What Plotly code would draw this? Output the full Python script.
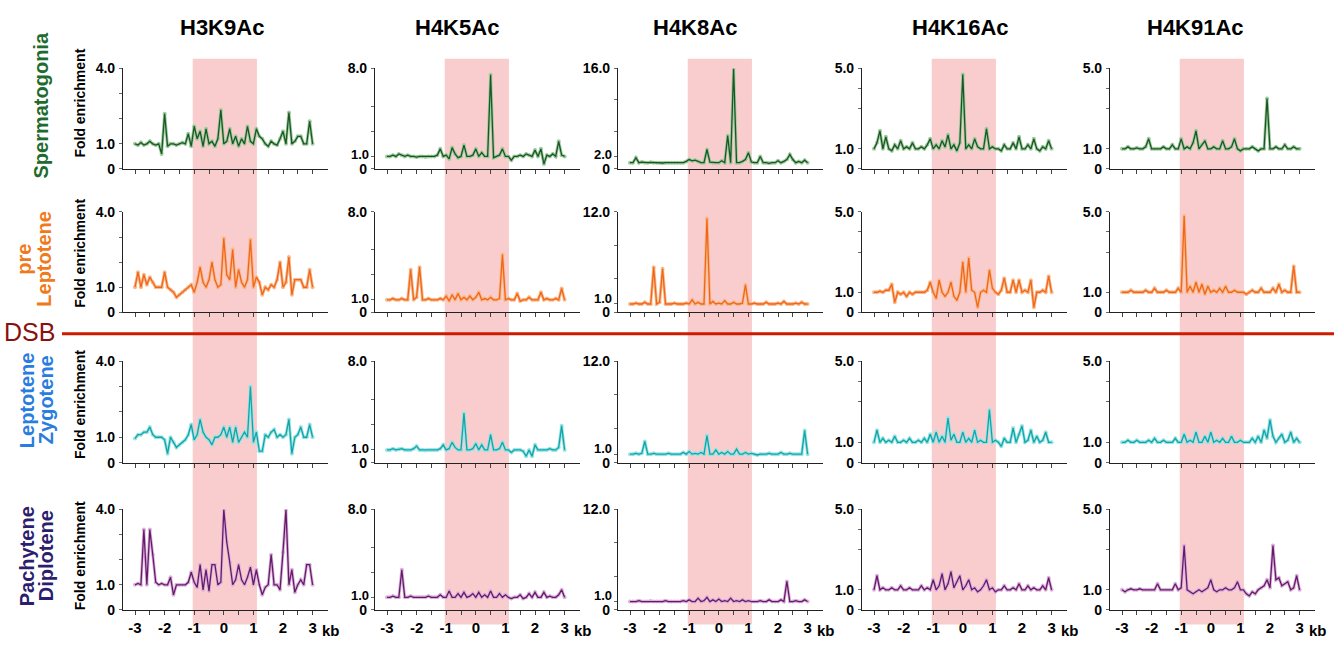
import plotly.graph_objects as go

W, H = 1334, 654

# ---------------- data ----------------
kb = [round(-3 + 0.1 * i, 1) for i in range(61)]

marks = ["H3K9Ac", "H4K5Ac", "H4K8Ac", "H4K16Ac", "H4K91Ac"]
stages = ["Spermatogonia", "preLeptotene", "LeptoteneZygotene", "PachyteneDiplotene"]

# Spermatogonia
h3k9ac_spg = [1.0, 0.95, 1.05, 0.95, 1.0, 1.1, 1.0, 0.95, 1.0, 0.6,
              2.2, 0.9, 1.0, 1.0, 0.95, 1.0, 1.05, 1.0, 1.4, 0.9,
              1.7, 1.2, 1.5, 0.9, 1.6, 1.0, 1.1, 0.9, 1.2, 2.35,
              1.0, 1.1, 1.6, 1.0, 1.3, 0.9, 1.2, 1.0, 1.7, 1.1,
              1.0, 1.6, 1.3, 1.2, 1.0, 0.9, 1.1, 1.0, 0.95, 1.2,
              1.5, 1.0, 2.25, 1.0, 1.1, 1.3, 1.3, 1.0, 1.0, 1.9, 1.0]
h4k5ac_spg = [1.0, 1.0, 1.1, 1.0, 1.2, 1.1, 1.0, 1.1, 1.0, 1.0,
              0.95, 1.0, 1.0, 0.95, 1.0, 1.0, 1.0, 1.1, 1.6, 1.0,
              1.1, 0.8, 1.7, 1.2, 0.9, 1.0, 1.9, 1.0, 1.0, 1.1,
              1.6, 1.0, 1.3, 1.0, 1.0, 7.5, 0.9, 1.0, 1.1, 1.6,
              1.0, 1.0, 0.7, 1.0, 1.0, 1.1, 1.0, 1.2, 1.1, 1.0,
              1.5, 1.0, 1.6, 0.4, 1.1, 1.0, 1.2, 1.0, 2.2, 1.1, 1.0]
h4k8ac_spg = [1.0, 1.0, 1.8, 1.0, 1.1, 1.0, 1.0, 1.05, 1.0, 1.0,
              1.0, 0.95, 1.0, 1.0, 1.0, 1.0, 1.0, 1.0, 1.0, 1.2,
              1.5, 1.3, 1.4, 1.2, 1.0, 1.0, 3.1, 1.1, 1.0, 1.0,
              1.0, 1.3, 1.0, 5.3, 1.0, 16.0, 1.0, 1.0, 1.2, 1.5,
              2.6, 1.1, 1.0, 1.0, 2.0, 1.0, 1.0, 0.9, 1.0, 1.0,
              1.3, 1.0, 1.2, 1.5, 2.3, 1.5, 1.0, 1.2, 1.0, 1.4, 1.0]
h4k16ac_spg = [1.0, 1.3, 1.9, 1.0, 1.6, 1.0, 0.9, 1.2, 1.0, 1.4,
               1.0, 1.1, 1.0, 1.3, 1.0, 1.0, 1.1, 1.0, 1.2, 1.5,
               1.0, 1.2, 1.0, 1.4, 1.1, 1.7, 1.0, 1.2, 0.9, 1.3,
               4.7, 1.0, 1.2, 1.0, 1.5, 1.1, 1.0, 1.0, 2.0, 1.0,
               1.1, 1.0, 1.0, 0.9, 1.2, 1.0, 1.0, 1.3, 1.0, 1.6,
               1.0, 1.0, 1.2, 1.0, 1.5, 1.0, 0.9, 1.1, 1.0, 1.4, 1.0]
h4k91ac_spg = [1.0, 1.0, 1.1, 1.0, 1.0, 1.05, 1.0, 1.0, 1.1, 1.5,
               1.0, 1.0, 1.0, 1.0, 1.1, 1.0, 1.0, 1.2, 1.0, 1.0,
               1.5, 1.0, 1.1, 1.0, 1.3, 1.9, 1.0, 1.2, 1.4, 1.0,
               1.0, 1.1, 1.0, 1.0, 1.4, 1.0, 1.0, 1.1, 1.5, 1.0,
               0.9, 1.0, 1.0, 1.0, 1.1, 1.0, 0.9, 1.0, 1.0, 3.5,
               1.0, 1.0, 1.1, 1.0, 1.0, 1.2, 1.0, 1.0, 1.1, 1.0, 1.0]

# pre-Leptotene
h3k9ac_prl = [1.0, 1.6, 1.0, 1.5, 1.1, 1.4, 1.2, 1.0, 1.0, 1.0,
              1.6, 1.0, 0.9, 0.8, 0.6, 0.7, 0.8, 0.9, 1.0, 1.1,
              0.8, 1.2, 1.8, 1.2, 1.0, 1.3, 2.0, 1.3, 1.0, 1.1,
              2.95, 1.5, 1.3, 2.5, 1.0, 1.7, 1.2, 1.0, 1.3, 2.9,
              1.0, 1.4, 1.2, 0.7, 1.0, 0.9, 1.1, 1.0, 1.3, 2.0,
              1.0, 1.2, 2.2, 0.7, 1.3, 1.3, 1.3, 1.0, 1.0, 1.7, 1.0]
h4k5ac_prl = [1.0, 1.0, 1.1, 1.0, 1.0, 1.1, 1.0, 1.0, 3.4, 1.0,
              1.2, 3.6, 1.0, 1.0, 1.1, 1.0, 1.0, 1.0, 1.1, 1.0,
              1.3, 0.9, 1.4, 1.0, 1.5, 1.0, 1.2, 1.0, 1.3, 1.0,
              1.2, 1.6, 1.0, 1.1, 1.0, 1.2, 1.0, 1.0, 1.1, 4.6,
              1.0, 1.1, 1.0, 1.0, 1.5, 0.9, 1.0, 1.0, 1.2, 1.0,
              1.0, 1.0, 1.6, 1.0, 1.1, 1.0, 1.0, 1.1, 1.0, 1.9, 1.0]
h4k8ac_prl = [1.0, 1.0, 1.1, 1.0, 1.0, 1.2, 1.0, 1.0, 5.4, 1.0,
              1.2, 5.2, 1.0, 1.0, 1.0, 1.1, 1.0, 1.0, 1.0, 1.1,
              1.0, 1.5, 1.0, 1.2, 1.0, 1.0, 11.2, 1.0, 1.3, 1.0,
              1.1, 1.0, 1.4, 1.0, 1.0, 1.2, 1.0, 1.0, 1.1, 3.3,
              1.0, 1.0, 1.1, 1.0, 1.0, 1.0, 1.2, 1.0, 1.0, 1.0,
              1.1, 1.0, 1.3, 1.0, 1.0, 1.0, 1.1, 1.0, 1.2, 1.0, 1.0]
h4k16ac_prl = [1.0, 1.0, 1.05, 1.0, 1.1, 1.1, 1.4, 0.5, 1.0, 0.9,
               1.0, 0.8, 1.0, 0.9, 1.0, 1.0, 1.0, 1.0, 1.1, 1.5,
               1.0, 0.7, 1.6, 1.0, 0.8, 1.0, 1.5, 0.8, 0.6, 1.0,
               2.5, 1.0, 2.7, 1.1, 1.0, 0.25, 1.0, 1.1, 1.0, 2.1,
               1.2, 1.0, 0.9, 1.1, 1.7, 1.0, 1.0, 1.6, 1.0, 1.6,
               1.0, 1.1, 1.0, 1.6, 0.25, 1.0, 1.0, 1.1, 1.0, 1.8, 1.0]
h4k91ac_prl = [1.0, 1.0, 1.0, 1.1, 1.0, 1.0, 1.0, 1.0, 1.1, 1.0,
               1.0, 1.2, 1.0, 1.0, 1.0, 1.1, 1.0, 1.0, 1.0, 1.2,
               1.0, 4.8, 1.0, 1.3, 1.0, 1.5, 1.0, 1.4, 0.9, 1.3,
               1.0, 1.1, 1.0, 1.2, 1.0, 1.3, 1.0, 1.0, 1.1, 1.0,
               1.0, 1.0, 0.9, 1.0, 1.1, 1.0, 1.0, 1.2, 1.0, 1.0,
               1.0, 1.2, 1.0, 1.4, 1.0, 1.1, 1.0, 1.0, 2.3, 1.0, 1.0]

# Leptotene / Zygotene
h3k9ac_lz = [0.95, 1.1, 1.1, 1.2, 1.2, 1.4, 1.1, 1.0, 1.0, 1.0,
             0.9, 0.35, 1.0, 0.8, 0.6, 0.7, 0.8, 0.9, 1.1, 1.5,
             0.9, 1.1, 1.7, 1.2, 1.0, 0.9, 0.7, 1.0, 1.0, 1.1,
             1.4, 1.0, 1.4, 0.8, 1.4, 0.8, 1.0, 1.2, 1.0, 3.0,
             0.8, 1.2, 0.45, 0.45, 1.1, 1.0, 1.2, 1.3, 1.0, 1.1,
             1.0, 1.1, 1.7, 0.35, 1.0, 1.1, 1.4, 1.0, 1.0, 1.5, 1.0]
h4k5ac_lz = [1.0, 1.0, 1.1, 1.0, 1.05, 1.1, 1.0, 1.0, 1.0, 1.1,
             1.3, 1.0, 1.0, 0.95, 1.0, 1.0, 1.0, 1.0, 1.1, 1.4,
             1.0, 1.1, 1.6, 1.2, 1.0, 1.0, 3.9, 1.0, 1.0, 1.1,
             1.5, 1.0, 1.4, 1.0, 1.0, 2.2, 1.0, 1.0, 1.1, 1.6,
             1.0, 1.0, 0.8, 1.0, 1.0, 1.0, 0.9, 0.5, 1.0, 0.5,
             1.4, 1.0, 1.0, 1.0, 1.0, 1.1, 1.0, 1.0, 1.2, 2.9, 1.0]
h4k8ac_lz = [1.0, 1.0, 1.1, 1.0, 1.1, 2.5, 1.0, 1.0, 1.1, 1.0,
             1.0, 1.0, 1.0, 1.1, 1.0, 1.0, 1.0, 1.0, 1.2, 1.0,
             1.3, 1.0, 1.1, 1.0, 1.2, 1.0, 3.2, 1.0, 1.0, 1.5,
             1.0, 1.2, 1.0, 1.3, 1.0, 1.0, 1.6, 1.0, 1.0, 1.2,
             1.0, 1.1, 1.0, 0.9, 1.0, 1.0, 1.0, 1.1, 1.0, 1.0,
             1.0, 1.2, 1.0, 1.0, 1.1, 1.0, 1.0, 1.0, 1.0, 3.8, 1.0]
h4k16ac_lz = [1.0, 1.6, 1.0, 1.2, 1.0, 1.1, 1.0, 1.3, 1.0, 1.0,
              1.1, 1.0, 1.2, 1.0, 1.0, 1.1, 1.0, 1.2, 1.0, 1.4,
              1.0, 1.5, 1.0, 1.3, 1.0, 2.2, 1.1, 1.4, 1.0, 1.0,
              1.5, 1.0, 1.2, 1.0, 1.6, 1.0, 1.1, 1.0, 1.0, 2.6,
              1.0, 1.1, 1.0, 0.8, 1.2, 1.0, 1.0, 1.7, 1.0, 1.4,
              1.8, 1.0, 1.1, 1.6, 1.0, 1.3, 1.0, 1.1, 1.5, 1.0, 1.0]
h4k91ac_lz = [1.0, 1.0, 1.1, 1.0, 1.0, 1.1, 1.0, 1.0, 1.0, 1.1,
              1.0, 1.2, 1.0, 1.0, 1.1, 1.0, 1.0, 1.0, 1.2, 1.0,
              1.0, 1.4, 1.0, 1.1, 1.0, 1.5, 1.0, 1.0, 1.3, 1.0,
              1.5, 1.0, 1.1, 1.0, 1.2, 1.0, 1.0, 1.3, 1.0, 1.0,
              1.1, 1.0, 1.0, 1.0, 1.2, 1.0, 1.3, 1.0, 1.6, 1.2,
              2.1, 1.3, 1.0, 1.2, 1.4, 1.0, 1.1, 1.5, 1.0, 1.2, 1.0]

# Pachytene / Diplotene
h3k9ac_pd = [1.0, 1.05, 1.0, 3.2, 1.0, 3.2, 2.2, 1.1, 1.0, 1.05,
             1.0, 1.0, 1.3, 0.6, 1.0, 1.0, 1.0, 1.0, 1.1, 1.5,
             1.1, 0.9, 1.8, 0.8, 1.6, 0.75, 1.8, 1.8, 1.0, 1.1,
             4.0, 2.7, 1.9, 1.0, 1.2, 1.8, 1.2, 1.0, 1.3, 1.7,
             1.0, 1.6, 1.0, 0.6, 0.9, 1.0, 2.2, 1.0, 1.0, 0.8,
             2.3, 4.0, 1.0, 1.6, 0.7, 1.0, 1.2, 1.0, 1.8, 1.8, 1.0]
h4k5ac_pd = [1.0, 1.0, 1.1, 1.0, 1.0, 3.2, 1.0, 1.0, 1.1, 1.0,
             1.0, 1.0, 1.0, 1.0, 1.1, 1.0, 1.0, 1.0, 1.2, 1.0,
             1.0, 1.5, 1.0, 1.0, 1.3, 1.0, 1.4, 1.0, 1.1, 1.3,
             1.0, 1.4, 1.0, 1.2, 1.0, 1.5, 1.0, 1.0, 1.3, 1.0,
             1.2, 1.0, 0.9, 1.0, 1.0, 1.2, 0.9, 1.0, 1.3, 1.0,
             1.4, 1.0, 1.0, 1.4, 1.0, 1.1, 1.0, 1.0, 1.2, 1.6, 1.0]
h4k8ac_pd = [1.0, 1.0, 1.0, 1.1, 1.0, 1.0, 1.0, 1.05, 1.0, 1.0,
             1.0, 1.0, 1.1, 1.0, 1.0, 1.0, 1.0, 1.0, 1.1, 1.0,
             1.2, 1.0, 1.0, 1.4, 1.0, 1.1, 1.5, 1.0, 1.2, 1.0,
             1.3, 1.0, 1.1, 1.0, 1.4, 1.0, 1.1, 1.0, 1.2, 1.0,
             1.1, 1.0, 1.0, 1.0, 1.1, 1.0, 1.0, 1.2, 1.0, 1.0,
             1.0, 1.2, 1.0, 3.4, 1.0, 1.0, 1.1, 1.0, 1.0, 1.2, 1.0]
h4k16ac_pd = [1.0, 1.7, 1.0, 1.1, 1.0, 1.0, 1.1, 1.0, 1.0, 1.2,
              1.0, 1.0, 1.1, 1.0, 1.0, 1.0, 1.2, 1.0, 1.1, 1.0,
              1.5, 1.0, 1.2, 1.8, 1.0, 1.3, 1.9, 1.1, 1.4, 1.7,
              1.0, 1.2, 1.5, 1.0, 1.1, 0.9, 1.0, 1.2, 1.5, 1.0,
              1.1, 0.9, 1.0, 1.0, 1.2, 1.0, 1.0, 1.1, 1.0, 1.3,
              1.0, 1.0, 1.2, 1.0, 1.1, 1.0, 1.0, 1.2, 1.0, 1.6, 1.0]
h4k91ac_pd = [1.0, 0.9, 1.0, 1.05, 1.0, 1.0, 1.05, 1.0, 1.0, 1.0,
              1.0, 1.0, 1.3, 1.0, 1.0, 1.0, 1.0, 1.0, 1.3, 1.0,
              1.1, 3.2, 1.0, 0.9, 0.8, 0.9, 1.0, 0.9, 1.0, 1.1,
              1.5, 1.0, 0.9, 1.0, 1.0, 1.1, 1.0, 1.0, 1.1, 1.4,
              1.0, 1.0, 0.8, 0.7, 0.9, 0.8, 1.0, 1.1, 1.2, 1.5,
              1.1, 3.2, 1.5, 1.6, 1.2, 1.3, 1.4, 1.0, 1.1, 1.7, 1.0]

series = [
    [h3k9ac_spg, h4k5ac_spg, h4k8ac_spg, h4k16ac_spg, h4k91ac_spg],
    [h3k9ac_prl, h4k5ac_prl, h4k8ac_prl, h4k16ac_prl, h4k91ac_prl],
    [h3k9ac_lz, h4k5ac_lz, h4k8ac_lz, h4k16ac_lz, h4k91ac_lz],
    [h3k9ac_pd, h4k5ac_pd, h4k8ac_pd, h4k16ac_pd, h4k91ac_pd],
]

y_max = [[4, 8, 16, 5, 5], [4, 8, 12, 5, 5], [4, 8, 12, 5, 5], [4, 8, 12, 5, 5]]
x_tick_vals = [-3, -2.5, -2, -1.5, -1, -0.5, 0, 0.5, 1, 1.5, 2, 2.5, 3]
x_tick_text = ["-3", "", "-2", "", "-1", "", "0", "", "1", "", "2", "", "3"]
dsb_region = [-1.05, 1.12]

# ---------------- style / layout ----------------
line_dark = ["#1c5526", "#f0661a", "#16a3a6", "#641c68"]
line_light = ["#9ccc9c", "#f9b98a", "#94e4e6", "#dcb0dc"]

col_left = [123, 375, 618, 862, 1110]
axis_w = 205
row_zero = [165, 312, 466, 617]
row_top = [62, 209, 362, 514]
px_per_kb = 29.6
x_lo = -3 - 12 / px_per_kb
x_hi = x_lo + axis_w / px_per_kb

FONT = "Liberation Sans"


def fx(px):
    return px / W


def fy(py):
    return 1 - py / H


fig = go.Figure()
layout = dict(width=W, height=H, margin=dict(l=0, r=0, t=0, b=0),
              paper_bgcolor="white", plot_bgcolor="rgba(0,0,0,0)",
              showlegend=False)
ann = []

for r in range(4):
    for c in range(5):
        n = r * 5 + c + 1
        xa = "x" if n == 1 else f"x{n}"
        ya = "y" if n == 1 else f"y{n}"
        ys = series[r][c]
        fig.add_trace(go.Scatter(x=kb, y=ys, xaxis=xa, yaxis=ya, mode="lines+markers",
                                 line=dict(color=line_light[r], width=3),
                                 marker=dict(color=line_light[r], size=4),
                                 hoverinfo="skip"))
        fig.add_trace(go.Scatter(x=kb, y=ys, xaxis=xa, yaxis=ya, mode="lines",
                                 line=dict(color=line_dark[r], width=1.3),
                                 hoverinfo="skip"))
        ym = y_max[r][c]
        if ym == 4:
            yv = [0, 1, 2, 3, 4]
        elif ym == 8:
            yv = [0, 1, 3, 5, 8]
        elif ym == 16:
            yv = [0, 2, 6, 11, 16]
        elif ym == 12:
            yv = [0, 1, 4, 8, 12]
        else:
            yv = [0, 1, 3, 4, 5]
        low = 2 if ym == 16 else 1
        plot_h = row_zero[r] - row_top[r]
        dist = low / ym * plot_h
        yt = []
        for v in yv:
            if v == 0:
                yt.append("0")
            elif v == ym:
                yt.append(f"{v:.1f}")
            elif v == low and dist >= 16:
                yt.append(f"{v:.1f}")
            else:
                yt.append("")
        if dist < 16:
            # crowded low label: lift it slightly above the "0" label
            ann.append(dict(text=f"{low:.1f}", x=x_lo, y=low, xref=xa, yref=ya, showarrow=False,
                            xanchor="right", yanchor="middle", xshift=-4,
                            yshift=max(0.0, 14.5 - dist),
                            font=dict(family=FONT, size=13, color="black", weight="bold")))
        xkey = "xaxis" if n == 1 else f"xaxis{n}"
        ykey = "yaxis" if n == 1 else f"yaxis{n}"
        layout[xkey] = dict(domain=[fx(col_left[c]), fx(col_left[c] + axis_w)],
                            anchor=ya, range=[x_lo, x_hi],
                            showgrid=False, zeroline=False,
                            showline=True, linecolor="#222", linewidth=1.2,
                            ticks="outside", ticklen=4, tickcolor="#444", tickwidth=1,
                            tickmode="array", tickvals=x_tick_vals,
                            ticktext=x_tick_text if r == 3 else [""] * len(x_tick_vals),
                            tickfont=dict(family=FONT, size=15, color="black", weight="bold"),
                            fixedrange=True)
        layout[ykey] = dict(domain=[fy(row_zero[r]), fy(row_top[r])],
                            anchor=xa, range=[0, ym],
                            showgrid=False, zeroline=False,
                            showline=True, linecolor="#222", linewidth=1.2,
                            ticks="outside", ticklen=3, tickcolor="#666", tickwidth=1,
                            tickmode="array", tickvals=yv, ticktext=yt,
                            ticklabelstandoff=1,
                            tickfont=dict(family=FONT, size=14, color="black", weight="bold"),
                            fixedrange=True)

shapes = []
for c in range(5):
    xa = "x" if c == 0 else f"x{c + 1}"
    shapes.append(dict(type="rect", xref=xa, yref="paper",
                       x0=dsb_region[0], x1=dsb_region[1],
                       y0=fy(632), y1=fy(52),
                       fillcolor="#f9cdcd", line=dict(width=0), layer="below"))
shapes.append(dict(type="line", xref="paper", yref="paper",
                   x0=fx(62), x1=1, y0=fy(334), y1=fy(334),
                   line=dict(color="#cc1b00", width=3), layer="above"))
layout["shapes"] = shapes

title_x = [222, 457, 695, 960, 1195]
for c in range(5):
    ann.append(dict(text=marks[c], x=fx(title_x[c]), y=fy(20), xref="paper", yref="paper",
                    showarrow=False, xanchor="center", yanchor="middle",
                    font=dict(family=FONT, size=22, color="black", weight="bold")))

fe_y = [98, 252, 407, 562]
for r in range(4):
    ann.append(dict(text="Fold enrichment", x=fx(80), y=fy(fe_y[r]), xref="paper", yref="paper",
                    showarrow=False, textangle=-90, xanchor="center", yanchor="middle",
                    font=dict(family=FONT, size=14, color="black", weight="bold")))

stage_labels = [
    [("Spermatogonia", 41, 100, "#1e6b2e")],
    [("pre", 24, 257, "#f07a1a"), ("Leptotene", 44, 257, "#f07a1a")],
    [("Leptotene", 27, 402, "#2a7de0"), ("Zygotene", 46, 402, "#2a7de0")],
    [("Pachytene", 27, 562, "#2c1e6e"), ("Diplotene", 46, 562, "#2c1e6e")],
]
for grp in stage_labels:
    for txt, px, py, col in grp:
        ann.append(dict(text=txt, x=fx(px), y=fy(py), xref="paper", yref="paper",
                        showarrow=False, textangle=-90, xanchor="center", yanchor="middle",
                        font=dict(family=FONT, size=20, color=col, weight="bold")))

ann.append(dict(text="DSB", x=fx(29), y=fy(332), xref="paper", yref="paper",
                showarrow=False, xanchor="center", yanchor="middle",
                font=dict(family=FONT, size=25, color="#8a1010")))

for c in range(5):
    xa = f"x{15 + c + 1}"
    ann.append(dict(text="kb", x=3, y=fy(638), xref=xa, yref="paper", showarrow=False,
                    xanchor="left", yanchor="middle", xshift=7,
                    font=dict(family=FONT, size=15, color="black", weight="bold")))

layout["annotations"] = ann
fig.update_layout(**layout)
fig.write_html("out.html")
